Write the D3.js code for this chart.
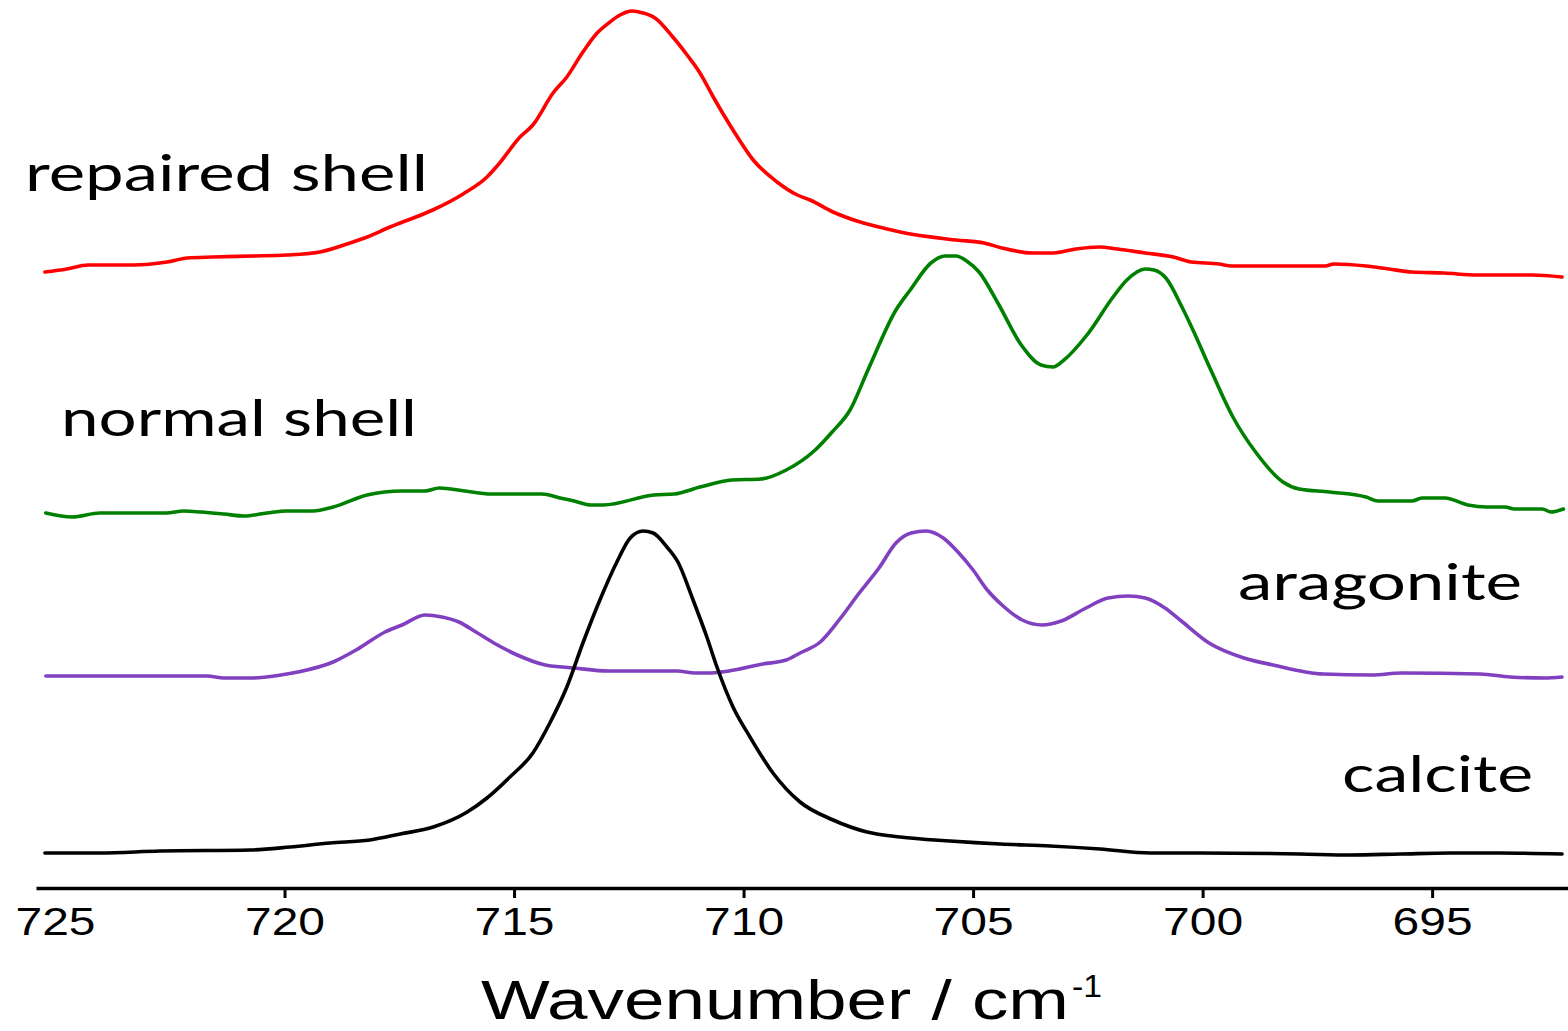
<!DOCTYPE html>
<html>
<head>
<meta charset="utf-8">
<script src="https://cdn.jsdelivr.net/npm/d3@7"></script>
<style>
  html, body { margin: 0; padding: 0; background: #fff; }
  svg { display: block; }
</style>
</head>
<body>
<svg id="chart" width="1568" height="1031"></svg>
<script>
// Wavenumber (cm^-1) / offset absorbance (a.u.) pairs
const repairedShell = [
  [725.22,61.4],[724.74,61.7],[724.28,62.1],[723.30,62.1],[722.56,62.4],[722.12,62.8],[721.56,62.9],
  [720.69,63.0],[719.95,63.1],[719.23,63.4],[718.51,64.4],[718.20,64.9],[717.70,65.9],[717.48,66.3],
  [716.77,67.6],[716.11,69.2],[715.59,70.9],[715.35,72.1],[714.87,74.9],[714.59,76.1],[714.15,79.3],
  [713.85,80.9],[713.50,83.4],[713.19,85.3],[712.91,86.4],[712.69,87.1],[712.43,87.5],[712.19,87.3],
  [711.93,86.8],[711.54,84.9],[711.23,83.1],[710.95,81.3],[710.66,78.9],[710.23,75.6],[709.79,72.6],
  [709.27,70.4],[708.83,69.1],[708.55,68.6],[708.05,67.4],[707.53,66.5],[706.96,65.8],[706.59,65.4],
  [705.37,64.6],[704.76,64.3],[704.37,63.8],[703.71,63.3],[703.26,63.3],[702.76,63.7],[702.25,63.9],
  [701.86,63.7],[701.25,63.3],[700.64,62.9],[700.25,62.4],[699.64,62.2],[699.36,62.0],[697.33,62.0],
  [697.14,62.2],[696.44,62.0],[695.94,61.7],[695.44,61.4],[694.74,61.3],[694.02,61.1],[692.82,61.1],
  [692.17,60.9]
];
const normalShell = [
  [725.20,37.3],[724.63,36.9],[724.02,37.3],[722.58,37.3],[722.19,37.5],[721.82,37.4],[721.32,37.2],
  [720.88,37.0],[720.38,37.3],[719.95,37.5],[719.38,37.5],[718.94,37.9],[718.20,39.1],[717.44,39.5],
  [716.94,39.5],[716.63,39.8],[716.07,39.5],[715.50,39.2],[714.39,39.2],[714.00,38.8],[713.69,38.5],
  [713.32,38.1],[713.06,38.1],[711.95,39.1],[711.51,39.2],[710.95,39.9],[710.25,40.6],[709.62,40.7],
  [709.07,41.6],[708.44,43.6],[708.07,45.4],[707.68,47.6],[707.29,51.6],[706.68,57.6],[706.37,59.6],
  [705.92,62.3],[705.61,63.0],[705.37,63.0],[705.11,62.4],[704.87,61.4],[704.46,58.3],[703.95,54.1],
  [703.52,52.1],[703.26,51.9],[703.02,52.6],[702.52,55.1],[701.95,58.9],[701.65,60.6],[701.25,61.7],
  [701.06,61.6],[700.80,60.8],[700.45,57.9],[700.21,55.6],[699.84,51.8],[699.34,46.9],[698.83,43.3],
  [698.25,40.4],[697.90,39.7],[697.24,39.4],[696.44,38.9],[696.18,38.5],[695.44,38.5],[695.22,38.8],
  [694.72,38.8],[694.22,38.1],[693.82,37.9],[693.41,37.9],[693.21,37.7],[692.60,37.7],[692.41,37.4],
  [692.14,37.7]
];
const aragonite = [
  [725.20,21.0],[721.69,21.0],[721.32,20.8],[720.69,20.8],[720.08,21.1],[719.71,21.4],[718.94,22.4],
  [718.44,23.6],[717.81,25.4],[717.44,26.1],[716.94,27.1],[716.57,26.9],[716.20,26.4],[715.83,25.4],
  [715.44,24.3],[714.93,23.1],[714.32,22.1],[713.69,21.8],[712.95,21.5],[711.45,21.5],[711.06,21.3],
  [710.69,21.3],[710.32,21.5],[709.58,22.2],[709.07,22.6],[708.77,23.3],[708.33,24.4],[707.92,26.6],
  [707.48,29.3],[707.05,31.8],[706.68,34.3],[706.35,35.3],[706.02,35.5],[705.65,34.8],[705.33,33.4],
  [705.00,31.6],[704.69,29.6],[704.37,28.1],[703.93,26.6],[703.50,26.1],[703.08,26.5],[702.54,27.8],
  [702.06,28.8],[701.62,29.0],[701.25,28.8],[700.82,27.8],[700.49,26.6],[699.86,24.3],[699.10,22.8],
  [698.46,22.1],[697.37,21.2],[696.31,21.1],[695.67,21.3],[693.95,21.2],[693.30,20.9],[692.56,20.8],
  [692.17,20.9]
];
const calcite = [
  [725.22,3.3],[724.02,3.3],[722.71,3.5],[720.75,3.6],[719.88,3.9],[719.01,4.3],[718.14,4.6],
  [717.48,5.2],[716.76,5.9],[716.02,7.4],[715.59,8.8],[715.09,10.9],[714.59,13.3],[714.22,16.3],
  [713.85,19.9],[713.50,24.3],[713.13,28.6],[712.76,32.4],[712.47,34.8],[712.19,35.5],[711.97,35.3],
  [711.67,33.9],[711.43,32.4],[711.10,28.6],[710.80,24.9],[710.58,21.9],[710.23,17.9],[709.86,14.9],
  [709.36,11.3],[708.77,8.4],[708.05,6.6],[707.31,5.4],[706.59,4.9],[705.50,4.5],[704.41,4.2],
  [703.32,4.0],[702.23,3.7],[701.14,3.3],[700.05,3.3],[697.88,3.2],[696.79,3.1],[695.70,3.2],
  [694.61,3.3],[693.52,3.3],[692.17,3.2]
];
const seriesNames  = ["repaired shell", "normal shell", "aragonite", "calcite"];
const seriesColors = ["#ff0000", "#008000", "#8040c0", "#000000"];
const tickValues   = [725, 720, 715, 710, 705, 700, 695];
const xTitle = "Wavenumber / cm";
const xTitleSup = "-1";

const allSeries = [repairedShell, normalShell, aragonite, calcite];

const svg = d3.select("#chart");
const x = d3.scaleLinear().domain([725.414, 692.04]).range([36, 1568]);
const y = d3.scaleLinear().domain([0, 88.6]).range([886, 0]);

const line = d3.line()
  .x(d => x(d[0]))
  .y(d => y(d[1]))
  .curve(d3.curveMonotoneX);

allSeries.forEach((s, i) => {
  svg.append("path")
    .datum(s)
    .attr("fill", "none")
    .attr("stroke", seriesColors[i])
    .attr("stroke-width", 3.6)
    .attr("stroke-linejoin", "round")
    .attr("stroke-linecap", "round")
    .attr("d", line);
});

// x axis
const axis = d3.axisBottom(x)
  .tickValues(tickValues)
  .tickFormat(d3.format("d"))
  .tickSizeInner(10)
  .tickSizeOuter(0)
  .tickPadding(6);

const gx = svg.append("g")
  .attr("transform", "translate(0,888)")
  .call(axis);
gx.select(".domain").attr("stroke", "#000").attr("stroke-width", 3.5);
gx.selectAll(".tick line")
  .attr("stroke", "#000").attr("stroke-width", 3)
  .attr("display", d => d === 725 ? "none" : null);
gx.selectAll(".tick text")
  .attr("font-family", "'Liberation Sans', Arial, sans-serif")
  .attr("font-size", 39)
  .attr("fill", "#000")
  .attr("y", 47)
  .attr("dy", 0)
  .attr("textLength", 80)
  .attr("lengthAdjust", "spacingAndGlyphs");

// axis title
svg.append("text")
  .attr("x", 481).attr("y", 1019)
  .attr("font-family", "'Liberation Sans', Arial, sans-serif")
  .attr("font-size", 56)
  .attr("textLength", 588)
  .attr("lengthAdjust", "spacingAndGlyphs")
  .attr("fill", "#000")
  .text(xTitle);
svg.append("text")
  .attr("x", 1072).attr("y", 997)
  .attr("font-family", "'Liberation Sans', Arial, sans-serif")
  .attr("font-size", 31)
  .attr("textLength", 30)
  .attr("lengthAdjust", "spacingAndGlyphs")
  .attr("fill", "#000")
  .text(xTitleSup);

// series labels
const labelPos = [
  {x: 25, y: 191, w: 403},
  {x: 61, y: 436, w: 356},
  {x: 1238, y: 600, w: 284},
  {x: 1342, y: 792, w: 191}
];
seriesNames.forEach((n, i) => {
  svg.append("text")
    .attr("x", labelPos[i].x).attr("y", labelPos[i].y)
    .attr("font-family", "Lato, 'Open Sans', sans-serif")
    .attr("font-size", 50)
    .attr("textLength", labelPos[i].w)
    .attr("lengthAdjust", "spacingAndGlyphs")
    .attr("fill", "#000")
    .text(n);
});
</script>
</body>
</html>
